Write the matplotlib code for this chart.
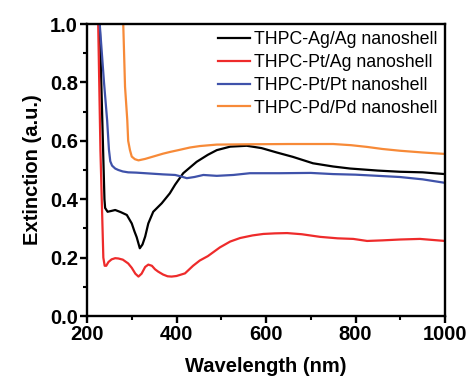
import matplotlib
matplotlib.use("Agg")
import matplotlib.pyplot as plt
from matplotlib.ticker import MultipleLocator

plt.rcParams['font.family'] = ['Liberation Sans', 'DejaVu Sans']

labels = ["THPC-Ag/Ag nanoshell", "THPC-Pt/Ag nanoshell",
          "THPC-Pt/Pt nanoshell", "THPC-Pd/Pd nanoshell"]
colors = ["#000000", "#ee2b2b", "#3f52aa", "#f78a38"]

ag_x = [228, 228.4, 236, 239, 240.5, 246, 255, 263, 275, 289, 300, 306, 311, 318,
        324, 330, 337, 348, 367, 385, 397, 415, 445, 470, 490, 520, 557, 590,
        624, 660, 705, 750, 788, 850, 899, 950, 1000]
ag_y = [1.05, 1.0, 0.568, 0.40, 0.37, 0.357, 0.36, 0.363, 0.356, 0.346, 0.317,
        0.29, 0.27, 0.232, 0.245, 0.272, 0.317, 0.357, 0.386, 0.42, 0.45, 0.489,
        0.528, 0.552, 0.568, 0.58, 0.583, 0.575, 0.56, 0.545, 0.523, 0.512,
        0.505, 0.498, 0.494, 0.492, 0.486]

ptag_x = [224.4, 225, 230, 236.5, 239.5, 243, 248, 255, 263, 270, 280, 292, 300,
          308, 315, 322, 330, 337, 345, 352, 359, 370, 380, 389, 400, 419, 437,
          452, 470, 497, 520, 542, 570, 594, 620, 647, 680, 721, 760, 795, 826,
          860, 900, 944, 1000]
ptag_y = [1.05, 1.0, 0.568, 0.2, 0.172, 0.172, 0.185, 0.194, 0.198, 0.197, 0.193,
          0.18, 0.165, 0.145, 0.135, 0.145, 0.168, 0.176, 0.172, 0.16, 0.152,
          0.142, 0.136, 0.135, 0.137, 0.146, 0.172, 0.19, 0.205, 0.235, 0.255,
          0.267, 0.276, 0.281, 0.283, 0.284, 0.28, 0.271, 0.266, 0.264, 0.257,
          0.259, 0.262, 0.264, 0.257]

ptpt_x = [228, 228.4, 238, 245, 249, 252, 256, 263, 270, 280, 292, 310, 330, 350,
          370, 397, 410, 423, 440, 460, 490, 527, 564, 631, 700, 750, 800, 850,
          899, 950, 1000]
ptpt_y = [1.05, 1.0, 0.80, 0.67, 0.57, 0.53, 0.515, 0.505, 0.5, 0.495, 0.492,
          0.491, 0.489, 0.487, 0.485, 0.483, 0.478, 0.472, 0.476, 0.483, 0.48,
          0.483, 0.489, 0.489, 0.49, 0.486, 0.484, 0.48, 0.476, 0.468, 0.456]

pdpd_x = [280.5, 281, 285, 290, 292, 296, 300, 307, 315, 330, 350, 370, 386, 404,
          430, 452, 490, 557, 650, 750, 790, 826, 860, 899, 950, 1000]
pdpd_y = [1.05, 1.0, 0.785, 0.671, 0.60, 0.568, 0.546, 0.537, 0.533, 0.538,
          0.547, 0.556, 0.562, 0.568, 0.577, 0.582, 0.587, 0.588, 0.589, 0.589,
          0.585, 0.579, 0.572, 0.566, 0.56, 0.555]

xs = [ag_x, ptag_x, ptpt_x, pdpd_x]
ys = [ag_y, ptag_y, ptpt_y, pdpd_y]

fig = plt.figure(figsize=(4.68, 3.79), dpi=100)
ax = fig.add_axes([87/468, 1 - 316/379, (445 - 87)/468, (316 - 24)/379])

for x, y, c, l in zip(xs, ys, colors, labels):
    ax.plot(x, y, color=c, lw=1.6, label=l)

ax.set_xlim(200, 1000)
ax.set_ylim(0.0, 1.0)
ax.xaxis.set_minor_locator(MultipleLocator(100))
ax.yaxis.set_minor_locator(MultipleLocator(0.1))
ax.set_xticks([200, 400, 600, 800, 1000])
ax.set_xticklabels(["200", "400", "600", "800", "1000"])
ax.set_yticks([0.0, 0.2, 0.4, 0.6, 0.8, 1.0])
ax.set_yticklabels(["0.0", "0.2", "0.4", "0.6", "0.8", "1.0"])

for s in ax.spines.values():
    s.set_linewidth(1.7)
ax.tick_params(which='major', direction='out', length=5, width=1.7,
               labelsize=14.5, pad=1.5)
ax.tick_params(which='minor', direction='out', length=3, width=1.5)
for lab in ax.get_xticklabels() + ax.get_yticklabels():
    lab.set_fontweight('bold')

ax.set_xlabel("Wavelength (nm)", fontsize=14.5, fontweight='bold', labelpad=9)
ax.set_ylabel("Extinction (a.u.)", fontsize=14.5, fontweight='bold', labelpad=6)

ax.legend(loc='upper right', bbox_to_anchor=(1.0, 1.0), frameon=False,
          fontsize=12.8, handlelength=1.85, handletextpad=0.22,
          labelspacing=0.33, borderaxespad=0.25, borderpad=0.15)

fig.savefig("out.png", dpi=100)
